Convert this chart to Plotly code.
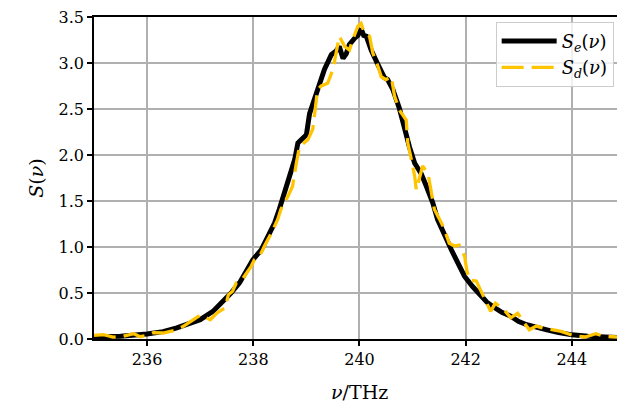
import plotly.graph_objects as go

# Measured spectrum S_e(nu) (black, solid)
nu_e = [235.0, 235.5, 236.0, 236.3, 236.56, 236.8, 237.0, 237.24, 237.4, 237.58,
        237.74, 237.87, 237.99, 238.15, 238.27, 238.4, 238.49, 238.59, 238.68, 238.78,
        238.84, 239.0, 239.06, 239.15, 239.25, 239.34, 239.47, 239.56, 239.62, 239.69,
        239.75, 239.81, 239.91, 239.97, 240.03, 240.08, 240.13, 240.22, 240.35, 240.47,
        240.53, 240.63, 240.75, 240.85, 240.94, 241.04, 241.16, 241.26, 241.38, 241.47,
        241.6, 241.73, 241.85, 241.98, 242.13, 242.27, 242.4, 242.52, 242.68, 242.84,
        243.0, 243.15, 243.35, 243.53, 243.75, 244.0, 244.3, 244.6, 244.85]
s_e = [0.025, 0.03, 0.055, 0.08, 0.12, 0.17, 0.21, 0.30, 0.39, 0.50,
       0.61, 0.75, 0.86, 0.97, 1.12, 1.26, 1.41, 1.59, 1.73, 1.95,
       2.13, 2.22, 2.45, 2.60, 2.80, 2.93, 3.09, 3.13, 3.18, 3.05,
       3.10, 3.20, 3.27, 3.30, 3.37, 3.30, 3.29, 3.14, 2.98, 2.84,
       2.82, 2.71, 2.51, 2.27, 2.09, 1.91, 1.80, 1.66, 1.48, 1.30,
       1.12, 0.97, 0.83, 0.68, 0.57, 0.48, 0.40, 0.35, 0.29, 0.25,
       0.19, 0.155, 0.12, 0.10, 0.07, 0.045, 0.03, 0.02, 0.015]

# Computed spectrum S_d(nu) (yellow, dashed)
nu_d = [235.0, 235.18, 235.36, 235.55, 235.75, 235.87, 236.0, 236.12, 236.3, 236.5,
        236.69, 236.87, 237.0, 237.19, 237.31, 237.47, 237.53, 237.61, 237.68, 237.77,
        237.83, 237.96, 238.02, 238.12, 238.21, 238.34, 238.46, 238.52, 238.65, 238.74,
        238.81, 238.87, 239.03, 239.12, 239.15, 239.21, 239.28, 239.4, 239.5, 239.56,
        239.62, 239.72, 239.81, 239.87, 239.97, 240.03, 240.09, 240.19, 240.25, 240.35,
        240.41, 240.5, 240.6, 240.66, 240.75, 240.88, 240.91, 240.97, 241.04, 241.07,
        241.19, 241.29, 241.35, 241.41, 241.51, 241.6, 241.69, 241.79, 241.88, 241.98,
        242.02, 242.07, 242.2, 242.31, 242.4, 242.47, 242.56, 242.72, 242.85, 242.98,
        243.11, 243.2, 243.33, 243.45, 243.65, 243.8, 244.03, 244.25, 244.45, 244.6,
        244.85]
s_d = [0.04, 0.047, 0.02, 0.03, 0.058, 0.025, 0.04, 0.07, 0.065, 0.09,
       0.14, 0.21, 0.26, 0.21, 0.28, 0.34, 0.48, 0.52, 0.61, 0.63,
       0.68, 0.79, 0.86, 0.90, 1.01, 1.15, 1.30, 1.41, 1.55, 1.66,
       1.91, 2.09, 2.17, 2.28, 2.42, 2.71, 2.75, 2.78, 2.93, 3.11,
       3.29, 3.18, 3.14, 3.25, 3.40, 3.43, 3.33, 3.29, 3.11, 2.96,
       2.85, 2.82, 2.85, 2.64, 2.49, 2.38, 2.13, 1.97, 1.77, 1.62,
       1.88, 1.80, 1.59, 1.41, 1.30, 1.19, 1.04, 1.01, 1.02, 0.90,
       0.75, 0.64, 0.63, 0.50, 0.39, 0.30, 0.39, 0.32, 0.23, 0.28,
       0.17, 0.10, 0.14, 0.12, 0.10, 0.083, 0.036, 0.022, 0.058, 0.03,
       0.022]

x_ticks = [236, 238, 240, 242, 244]
y_ticks = [0.0, 0.5, 1.0, 1.5, 2.0, 2.5, 3.0, 3.5]

FONT = "DejaVu Serif, Liberation Serif, serif"

fig = go.Figure()
fig.add_trace(go.Scatter(x=nu_e, y=s_e, mode="lines",
                         name="<i>S</i><sub><i>e</i></sub>(<i>ν</i>)",
                         line=dict(color="black", width=5)))
fig.add_trace(go.Scatter(x=nu_d, y=s_d, mode="lines",
                         name="<i>S</i><sub><i>d</i></sub>(<i>ν</i>)",
                         line=dict(color="#FFC400", width=3.3, dash="22px,8px")))

fig.update_layout(
    width=617, height=408,
    margin=dict(l=94, r=0, t=17, b=69),
    paper_bgcolor="white", plot_bgcolor="white",
    font=dict(family=FONT, size=16, color="black"),
    showlegend=True,
    legend=dict(x=0.768, y=0.985, xanchor="left", yanchor="top",
                bgcolor="rgba(255,255,255,0.8)", bordercolor="#cccccc",
                borderwidth=1, font=dict(family=FONT, size=18),
                itemwidth=55, tracegroupgap=0),
    xaxis=dict(range=[235, 244.85], tickvals=x_ticks,
               showgrid=True, gridcolor="#b0b0b0", gridwidth=1.5,
               showline=True, linecolor="black", linewidth=1.5, mirror=True,
               ticks="outside", ticklen=5, tickwidth=1.5, tickcolor="black",
               zeroline=False, tickfont=dict(size=16)),
    yaxis=dict(range=[0, 3.5], tickvals=y_ticks, tickformat=".1f",
               showgrid=True, gridcolor="#b0b0b0", gridwidth=1.5,
               showline=True, linecolor="black", linewidth=1.5, mirror=False,
               ticks="outside", ticklen=5, tickwidth=1.5, tickcolor="black",
               zeroline=False, tickfont=dict(size=16),
               title=dict(text="<i>S</i>(<i>ν</i>)", font=dict(size=19), standoff=10)),
)
fig.add_annotation(text="<i>ν</i>/THz", x=240, xref="x", y=0, yref="paper",
                   yanchor="top", yshift=-40, showarrow=False,
                   font=dict(family=FONT, size=19))

fig.write_html("out.html", config={"displayModeBar": False},
               post_script="document.body.style.margin='0';")
